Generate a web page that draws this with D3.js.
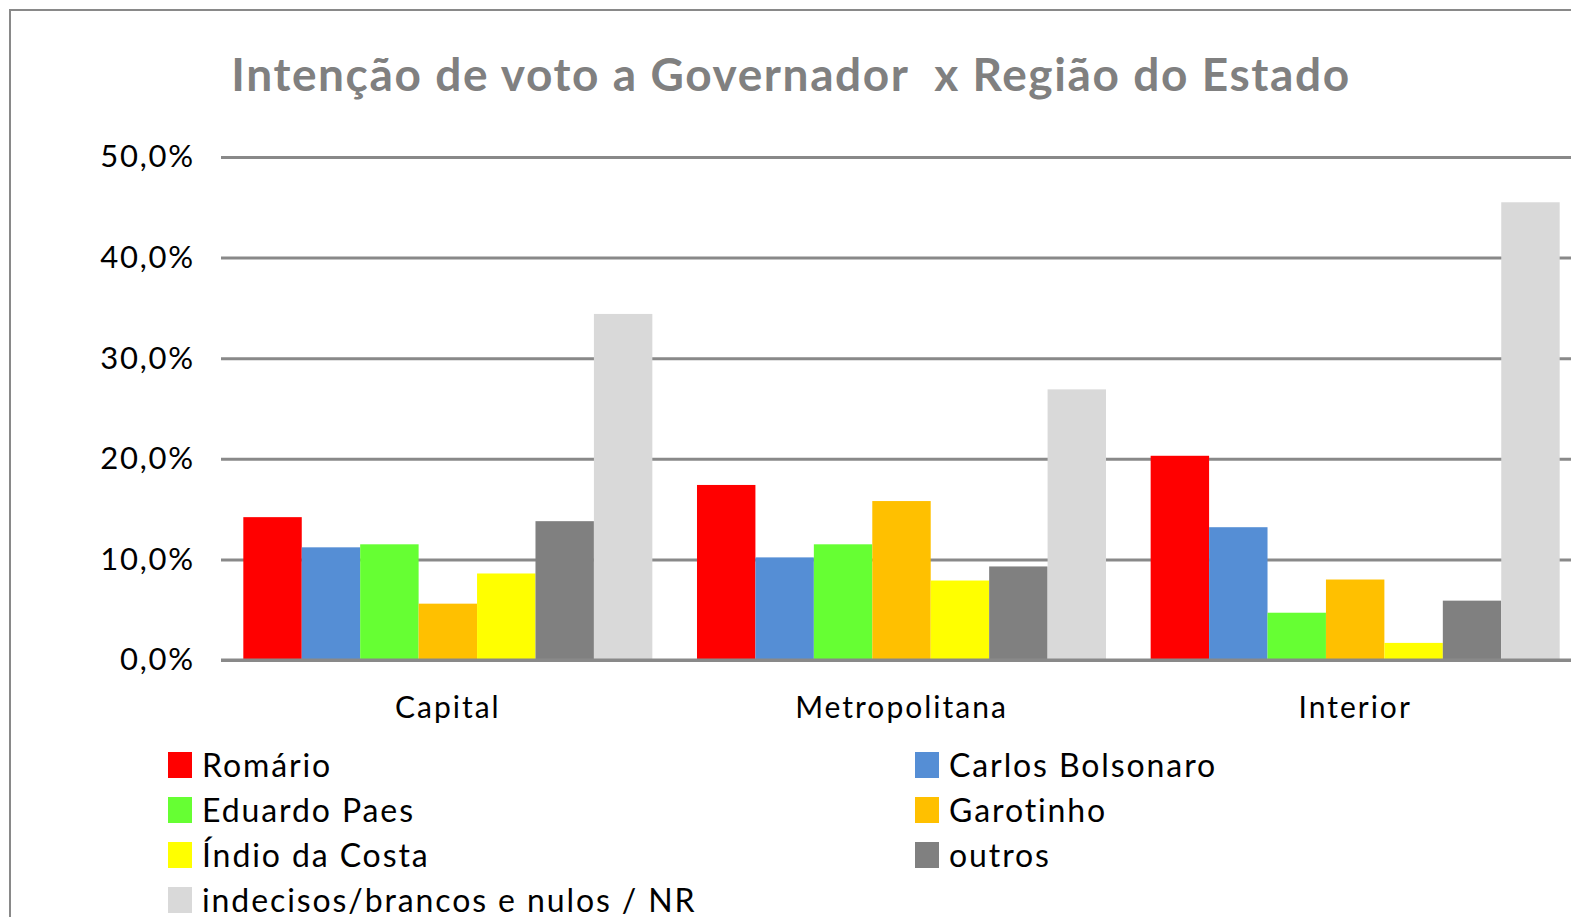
<!DOCTYPE html>
<html>
<head>
<meta charset="utf-8">
<script src="https://cdn.jsdelivr.net/npm/d3@7"></script>
<style>
  body { margin: 0; background: #fff; }
  svg { display: block; }
</style>
</head>
<body>
<div id="chart"></div>
<script>
// Data
const regions = ['Capital', 'Metropolitana', 'Interior'];
const candidates = ['Romário', 'Carlos Bolsonaro', 'Eduardo Paes', 'Garotinho', 'Índio da Costa', 'outros', 'indecisos/brancos e nulos / NR'];
const colors = ['#ff0000', '#558ed5', '#66ff33', '#ffc000', '#ffff00', '#808080', '#d9d9d9'];
const capitalValues = [14.2, 11.2, 11.5, 5.6, 8.6, 13.8, 34.4];
const metropolitanaValues = [17.4, 10.2, 11.5, 15.8, 7.9, 9.3, 26.9];
const interiorValues = [20.3, 13.2, 4.7, 8.0, 1.7, 5.9, 45.5];
const yTicks = [0, 10, 20, 30, 40, 50];

const valuesByRegion = [capitalValues, metropolitanaValues, interiorValues];
const rows = regions.map((r, i) => ({ region: r, values: valuesByRegion[i] }));

const width = 1571, height = 917;
const font_family = 'Lato, Carlito, Calibri, sans-serif';
const margin = { top: 157, left: 221, bottom: 257 };
const plotWidth = 1361; // runs past the right edge like the reference crop
const chartHeight = height - margin.top - margin.bottom;

const svg = d3.select('#chart').append('svg')
    .attr('width', width)
    .attr('height', height);

// outer frame (cropped on right and bottom)
svg.append('rect')
    .attr('x', 10).attr('y', 10)
    .attr('width', 1700).attr('height', 1000)
    .attr('fill', '#fff')
    .attr('stroke', '#898989')
    .attr('stroke-width', 2);

// title
svg.append('text')
    .attr('x', 791)
    .attr('y', 91)
    .attr('text-anchor', 'middle')
    .attr('font-family', font_family)
    .attr('font-size', 46)
    .attr('font-weight', 'bold')
    .attr('letter-spacing', 1.6)
    .attr('fill', '#808080')
    .attr('xml:space', 'preserve')
    .text('Intenção de voto a Governador  x Região do Estado');

const x0 = d3.scaleBand()
    .domain(regions)
    .range([0, plotWidth])
    .paddingInner(0.0984)
    .paddingOuter(0.0492);

const x1 = d3.scaleBand()
    .domain(candidates)
    .range([0, x0.bandwidth()]);

const yScale = d3.scaleLinear()
    .domain([0, 50])
    .range([chartHeight, 0]);

const colorScale = d3.scaleOrdinal()
    .domain(candidates)
    .range(colors);

const g = svg.append('g')
    .attr('transform', `translate(${margin.left},${margin.top})`);

// gridlines + y labels
const yAxis = g.append('g')
    .call(d3.axisLeft(yScale)
        .tickValues(yTicks)
        .tickSize(-plotWidth)
        .tickPadding(26)
        .tickFormat(d => d3.format('.1f')(d).replace('.', ',') + '%'));
yAxis.select('.domain').remove();
yAxis.selectAll('.tick line')
    .attr('stroke', '#898989')
    .attr('stroke-width', 3);
yAxis.selectAll('.tick text')
    .attr('font-family', font_family)
    .attr('font-size', 31)
    .attr('letter-spacing', 1.8)
    .attr('fill', '#000');

// bars
const groups = g.selectAll('g.region')
    .data(rows)
    .enter().append('g')
    .attr('class', 'region')
    .attr('transform', d => `translate(${x0(d.region)},0)`);

groups.selectAll('rect')
    .data(d => d.values.map((v, i) => ({ key: candidates[i], value: v })))
    .enter().append('rect')
    .attr('x', d => x1(d.key))
    .attr('y', d => yScale(d.value))
    .attr('width', x1.bandwidth())
    .attr('height', d => chartHeight - yScale(d.value))
    .attr('fill', d => colorScale(d.key));

// baseline on top of bars
g.append('line')
    .attr('x1', 0).attr('x2', plotWidth)
    .attr('y1', yScale(0)).attr('y2', yScale(0))
    .attr('stroke', '#898989')
    .attr('stroke-width', 3);

// x axis labels
const xAxis = g.append('g')
    .attr('transform', `translate(0,${chartHeight})`)
    .call(d3.axisBottom(x0).tickSize(0).tickPadding(37));
xAxis.select('.domain').remove();
xAxis.selectAll('.tick text')
    .attr('font-family', font_family)
    .attr('font-size', 30)
    .attr('letter-spacing', 2)
    .attr('fill', '#000');

// legend, two columns
const legend = svg.append('g')
    .selectAll('g.legend-item')
    .data(candidates)
    .enter().append('g')
    .attr('class', 'legend-item')
    .attr('transform', (d, i) => `translate(${i % 2 === 0 ? 168 : 915}, ${752 + Math.floor(i / 2) * 45})`);

legend.append('rect')
    .attr('width', 24)
    .attr('height', 26)
    .attr('fill', d => colorScale(d));

legend.append('text')
    .attr('x', 34)
    .attr('y', 13)
    .attr('dy', '0.36em')
    .attr('font-family', font_family)
    .attr('font-size', 32)
    .attr('letter-spacing', 1.9)
    .attr('fill', '#000')
    .text(d => d);
</script>
</body>
</html>
